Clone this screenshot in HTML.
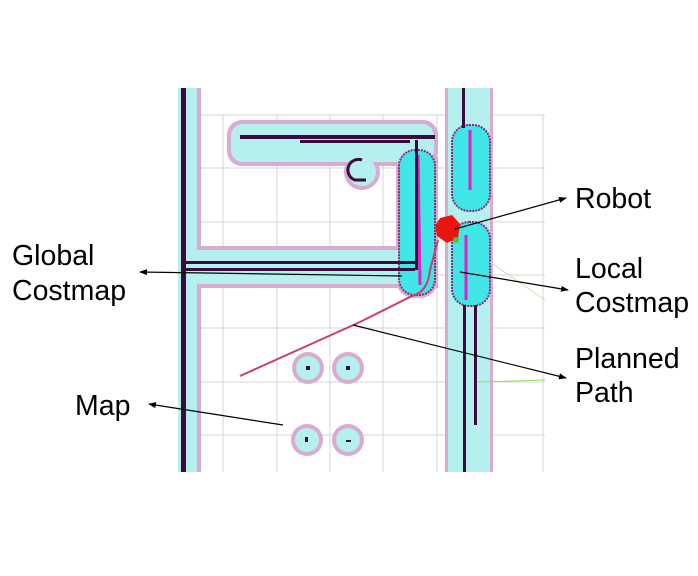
<!DOCTYPE html>
<html><head><meta charset="utf-8"><style>
html,body{margin:0;padding:0;background:#fff;}
svg{display:block}
text{font-family:"Liberation Sans",Arial,sans-serif;font-size:28.5px;fill:#000}
</style></head><body>
<svg width="698" height="576" viewBox="0 0 698 576" xmlns="http://www.w3.org/2000/svg">
<defs>
<marker id="ah" markerWidth="8" markerHeight="6" refX="7" refY="3" orient="auto" markerUnits="userSpaceOnUse">
<path d="M0,0 L8,3 L0,6 Z" fill="#000"/></marker>
</defs>
<g stroke="#d6d6d6" stroke-width="1">
<line x1="223" y1="115" x2="223" y2="472"/><line x1="277" y1="115" x2="277" y2="472"/>
<line x1="330" y1="115" x2="330" y2="472"/><line x1="383" y1="115" x2="383" y2="472"/>
<line x1="437" y1="115" x2="437" y2="472"/><line x1="490" y1="115" x2="490" y2="472"/>
<line x1="543" y1="115" x2="543" y2="472"/>
<line x1="200" y1="115" x2="545" y2="115"/><line x1="200" y1="168" x2="545" y2="168"/>
<line x1="200" y1="222" x2="545" y2="222"/><line x1="200" y1="275" x2="545" y2="275"/>
<line x1="200" y1="328" x2="545" y2="328"/><line x1="200" y1="382" x2="545" y2="382"/>
<line x1="200" y1="435" x2="545" y2="435"/>
</g>
<g fill="#d8abcf">
<rect x="178" y="88" width="23" height="384"/>
<rect x="227" y="120" width="211" height="46" rx="15"/>
<circle cx="362" cy="172" r="18"/>
<rect x="178" y="246" width="260" height="42"/>
<rect x="396" y="140" width="42" height="158" rx="18"/>
<rect x="445" y="88" width="48" height="384"/>
<circle cx="308" cy="368" r="16"/><circle cx="348" cy="368" r="16"/>
<circle cx="307" cy="440" r="16"/><circle cx="348" cy="440" r="16"/>
</g>
<g fill="#b6f0ee">
<rect x="178" y="88" width="19" height="384"/>
<rect x="231" y="124" width="203" height="38" rx="12"/>
<circle cx="362" cy="172" r="14"/>
<rect x="178" y="250" width="256" height="34"/>
<rect x="448" y="88" width="42" height="384"/>
<circle cx="308" cy="368" r="12"/><circle cx="348" cy="368" r="12"/>
<circle cx="307" cy="440" r="12"/><circle cx="348" cy="440" r="12"/>
</g>
<g fill="#40e6e6" stroke="#8a2a7a" stroke-width="2" stroke-dasharray="2,1">
<rect x="399" y="150" width="36" height="145" rx="16"/>
<rect x="452" y="125" width="38" height="86" rx="17"/>
<rect x="452" y="222" width="38" height="84" rx="17"/>
</g>
<g stroke="#e020c0" stroke-width="3" fill="none">
<line x1="418" y1="155" x2="420" y2="285"/>
<line x1="470" y1="130" x2="470" y2="190"/>
<line x1="466" y1="235" x2="466" y2="300"/>
</g>
<g fill="#3a0b3e">
<rect x="181" y="88" width="5" height="384"/>
<rect x="240" y="135" width="195" height="4"/>
<rect x="300" y="140" width="110" height="3"/>
<rect x="185" y="261" width="230" height="3"/>
<rect x="185" y="268" width="230" height="3"/>
<rect x="415" y="140" width="3" height="130"/>
<rect x="462" y="88" width="3" height="40"/>
<rect x="463" y="305" width="3" height="167"/>
<rect x="474" y="305" width="3" height="120"/>
<rect x="306" y="366" width="4" height="4"/><rect x="346" y="366" width="4" height="4"/>
<rect x="305" y="437" width="3" height="5"/><rect x="346" y="440" width="5" height="2"/>
</g>
<path d="M362,160 A10,10 0 0 0 355,180 L366,180" fill="none" stroke="#3a0b3e" stroke-width="3"/>
<path d="M240,376 L360,322 L412,296 Q428,292 430,270 L438,240" fill="none" stroke="#c8406a" stroke-width="2"/>
<line x1="478" y1="382" x2="545" y2="380" stroke="#90e060" stroke-width="1"/>
<line x1="490" y1="262" x2="545" y2="300" stroke="#cfe0b0" stroke-width="1"/>
<polygon points="440,218 452,215 460,224 458,238 447,243 437,236 435,226" fill="#e8160e"/>
<circle cx="456" cy="240" r="3" fill="#50c040"/>
<g stroke="#000" stroke-width="1.2" fill="none" marker-end="url(#ah)">
<line x1="455" y1="229" x2="566" y2="198"/>
<line x1="402" y1="276" x2="140" y2="272"/>
<line x1="460" y1="272" x2="568" y2="290"/>
<line x1="353" y1="325" x2="566" y2="378"/>
<line x1="283" y1="425" x2="149" y2="404"/>
</g>
<text x="575" y="208">Robot</text>
<text x="12" y="265">Global</text>
<text x="12" y="300">Costmap</text>
<text x="575" y="278">Local</text>
<text x="575" y="312">Costmap</text>
<text x="575" y="368">Planned</text>
<text x="575" y="402">Path</text>
<text x="75" y="415">Map</text>
</svg>
</body></html>
